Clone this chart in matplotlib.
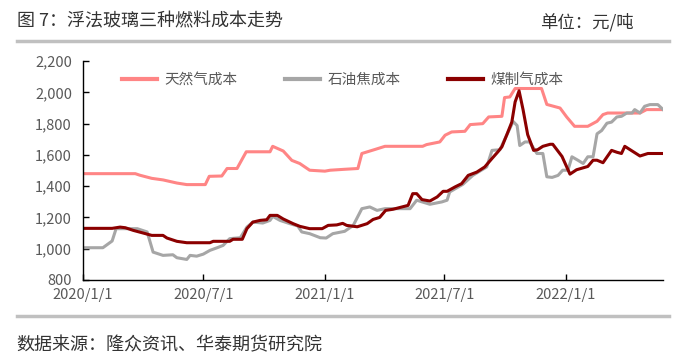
import matplotlib
matplotlib.use('Agg')
import matplotlib.pyplot as plt
from matplotlib.lines import Line2D
import pandas as pd

plt.rcParams['font.family'] = ['Noto Sans CJK SC', 'DejaVu Sans']

#天然气成本 (pink)
gas_dates = ['2020-01-01', '2020-03-20', '2020-03-27', '2020-04-14', '2020-05-01', '2020-05-22',
             '2020-06-06', '2020-07-04', '2020-07-10', '2020-07-29', '2020-08-06', '2020-08-21',
             '2020-09-04', '2020-10-10', '2020-10-14', '2020-10-30', '2020-11-12', '2020-11-24',
             '2020-12-09', '2021-01-01', '2021-01-09', '2021-01-31', '2021-02-20', '2021-02-26',
             '2021-03-18', '2021-04-02', '2021-05-29', '2021-06-04', '2021-06-24', '2021-07-02',
             '2021-07-12', '2021-08-01', '2021-08-09', '2021-08-28', '2021-09-06', '2021-09-26',
             '2021-09-30', '2021-10-08', '2021-10-16', '2021-11-25', '2021-12-03', '2021-12-23',
             '2022-01-02', '2022-01-14', '2022-02-03', '2022-02-17', '2022-02-26', '2022-03-05',
             '2022-04-23', '2022-05-03', '2022-05-28']
gas_cost = [1480, 1480, 1470, 1450, 1440, 1420,
            1410, 1410, 1463, 1465, 1513, 1513,
            1620, 1620, 1655, 1625, 1565, 1545,
            1502, 1496, 1502, 1508, 1513, 1609,
            1635, 1655, 1655, 1666, 1683, 1726,
            1747, 1751, 1794, 1800, 1843, 1847,
            1967, 1971, 2025, 2025, 1923, 1900,
            1843, 1783, 1783, 1815, 1858, 1868,
            1868, 1890, 1890]

#石油焦成本 (gray)
coke_dates = ['2020-01-01', '2020-01-31', '2020-02-14', '2020-02-20', '2020-03-23', '2020-04-07',
              '2020-04-16', '2020-05-01', '2020-05-16', '2020-05-22', '2020-06-06', '2020-06-11',
              '2020-06-21', '2020-07-01', '2020-07-11', '2020-07-22', '2020-07-31', '2020-08-10',
              '2020-08-26', '2020-09-05', '2020-09-14', '2020-09-29', '2020-10-10', '2020-10-14',
              '2020-10-25', '2020-11-09', '2020-11-21', '2020-11-27', '2020-12-09', '2020-12-25',
              '2021-01-03', '2021-01-13', '2021-01-31', '2021-02-13', '2021-02-26', '2021-03-10',
              '2021-03-21', '2021-04-02', '2021-05-10', '2021-05-20', '2021-06-09', '2021-06-27',
              '2021-07-05', '2021-07-09', '2021-07-29', '2021-08-13', '2021-09-03', '2021-09-11',
              '2021-09-23', '2021-09-30', '2021-10-13', '2021-10-19', '2021-10-23', '2021-10-31',
              '2021-11-07', '2021-11-18', '2021-11-27', '2021-12-03', '2021-12-11', '2021-12-20',
              '2021-12-27', '2022-01-04', '2022-01-10', '2022-01-19', '2022-01-27', '2022-02-03',
              '2022-02-11', '2022-02-17', '2022-02-24', '2022-03-04', '2022-03-11', '2022-03-19',
              '2022-03-26', '2022-04-03', '2022-04-11', '2022-04-15', '2022-04-23', '2022-04-30',
              '2022-05-08', '2022-05-20', '2022-05-28']
coke_cost = [1006, 1006, 1049, 1128, 1128, 1107,
             978, 957, 961, 942, 931, 957,
             952, 965, 989, 1006, 1021, 1064,
             1070, 1138, 1170, 1164, 1181, 1207,
             1181, 1160, 1145, 1107, 1096, 1070,
             1068, 1096, 1111, 1149, 1256, 1267,
             1245, 1256, 1256, 1310, 1284, 1299,
             1310, 1363, 1412, 1469, 1523, 1629,
             1633, 1697, 1814, 1788, 1660, 1683,
             1683, 1609, 1609, 1460, 1456, 1469,
             1502, 1502, 1588, 1566, 1545, 1588,
             1588, 1735, 1756, 1803, 1810, 1843,
             1847, 1868, 1868, 1890, 1868, 1911,
             1922, 1922, 1890]

#煤制气成本 (dark red)
coalgas_dates = ['2020-01-01', '2020-02-14', '2020-02-26', '2020-03-05', '2020-03-17', '2020-04-01',
                 '2020-04-14', '2020-05-01', '2020-05-07', '2020-05-22', '2020-06-06', '2020-07-11',
                 '2020-07-16', '2020-08-10', '2020-08-15', '2020-08-29', '2020-09-05', '2020-09-14',
                 '2020-09-25', '2020-10-05', '2020-10-10', '2020-10-21', '2020-10-30', '2020-11-14',
                 '2020-11-24', '2020-12-09', '2020-12-28', '2021-01-06', '2021-01-19', '2021-01-28',
                 '2021-02-03', '2021-02-19', '2021-03-06', '2021-03-15', '2021-03-25', '2021-04-03',
                 '2021-04-14', '2021-05-07', '2021-05-14', '2021-05-20', '2021-05-28', '2021-06-09',
                 '2021-06-20', '2021-06-29', '2021-07-05', '2021-07-17', '2021-07-27', '2021-08-06',
                 '2021-08-19', '2021-08-31', '2021-09-11', '2021-09-20', '2021-09-26', '2021-10-04',
                 '2021-10-11', '2021-10-16', '2021-10-22', '2021-10-28', '2021-11-04', '2021-11-13',
                 '2021-11-19', '2021-11-27', '2021-12-08', '2021-12-12', '2021-12-26', '2022-01-07',
                 '2022-01-17', '2022-02-03', '2022-02-11', '2022-02-17', '2022-02-26', '2022-03-11',
                 '2022-03-19', '2022-03-26', '2022-03-31', '2022-04-23', '2022-05-05', '2022-05-28']
coalgas_cost = [1130, 1130, 1138, 1134, 1117, 1100,
                1085, 1085, 1068, 1047, 1038, 1038,
                1047, 1047, 1060, 1060, 1128, 1170,
                1181, 1185, 1213, 1213, 1190, 1160,
                1143, 1128, 1128, 1149, 1152, 1162,
                1149, 1140, 1160, 1187, 1200, 1245,
                1252, 1277, 1352, 1352, 1314, 1305,
                1331, 1367, 1367, 1395, 1416, 1469,
                1490, 1523, 1577, 1620, 1652, 1735,
                1810, 1939, 2010, 1890, 1730, 1629,
                1633, 1655, 1668, 1668, 1590, 1477,
                1505, 1526, 1566, 1566, 1550, 1629,
                1617, 1609, 1655, 1593, 1609, 1609]

tick_dates = ['2020-01-01', '2020-07-01', '2021-01-01', '2021-07-01', '2022-01-01']
y_ticks = [800, 1000, 1200, 1400, 1600, 1800, 2000, 2200]

TXT = '#595959'

fig = plt.figure(figsize=(6.98, 3.64), dpi=100)
ax = fig.add_axes([0.119, 0.231, 0.831, 0.601])

ax.plot(pd.to_datetime(gas_dates), gas_cost, color='#ff8585', lw=2.2, label='天然气成本')
ax.plot(pd.to_datetime(coke_dates), coke_cost, color='#a6a6a6', lw=2.2, label='石油焦成本')
ax.plot(pd.to_datetime(coalgas_dates), coalgas_cost, color='#8b0000', lw=2.2, label='煤制气成本')

ax.set_ylim(800, 2200)
ax.set_yticks(y_ticks)
ax.set_yticklabels([f'{v:,}' for v in y_ticks])
ax.set_xlim(pd.Timestamp(gas_dates[0]), pd.Timestamp(gas_dates[-1]))
ticks = pd.to_datetime(tick_dates)
ax.set_xticks(ticks)
ax.set_xticklabels([f'{d.year}/{d.month}/{d.day}' for d in ticks])

for s in ['top', 'right']:
    ax.spines[s].set_visible(False)
for s in ['left', 'bottom']:
    ax.spines[s].set_linewidth(1.0)
ax.tick_params(direction='in', length=4.5, width=1.0, labelsize=10.5, labelcolor=TXT)
ax.tick_params(axis='y', pad=8)
ax.tick_params(axis='x', pad=6)

leg = ax.legend(loc='center left', bbox_to_anchor=(0.055, 0.913), ncol=3, frameon=False,
                handlelength=2.4, handletextpad=0.5, columnspacing=3.25, borderpad=0,
                fontsize=10.5, labelcolor=TXT)
for h in leg.get_lines():
    h.set_linewidth(3)

#Header, footer and separator lines
fig.text(0.024, 0.94, '图 7：浮法玻璃三种燃料成本走势', fontsize=13, color='#333333', va='center')
fig.text(0.774, 0.94, '单位：元/吨', fontsize=12.5, color='#333333', va='center')
fig.text(0.024, 0.052, '数据来源：隆众资讯、华泰期货研究院', fontsize=13, color='#333333', va='center')
fig.add_artist(Line2D([0.024, 0.958], [0.886, 0.886], color='#c0c0c0', lw=2.5))
fig.add_artist(Line2D([0.024, 0.958], [0.132, 0.132], color='#c0c0c0', lw=2.5))

fig.savefig('out.png', dpi=100)
